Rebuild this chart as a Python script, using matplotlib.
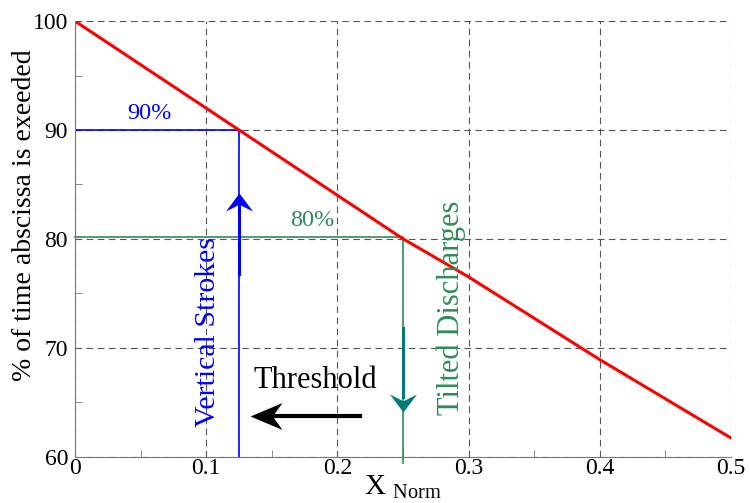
import numpy as np
import matplotlib
matplotlib.use("Agg")
import matplotlib.pyplot as plt
from matplotlib.path import Path
from matplotlib.transforms import Affine2D
from matplotlib.ticker import MultipleLocator

plt.rcParams['font.family'] = ['Liberation Serif', 'DejaVu Serif']
plt.rcParams['mathtext.fontset'] = 'custom'
plt.rcParams['mathtext.rm'] = 'Liberation Serif'

# curve: % of time abscissa is exceeded vs X_Norm
x_norm = [0, 0.125, 0.25, 0.3, 0.4, 0.5]
pct = [100, 90, 80, 76.5, 68.9, 61.7]

# thresholds
vs_x, vs_pct = 0.125, 90     # vertical strokes
td_x, td_pct = 0.25, 80      # tilted discharges

blue = '#0000ff'
green = '#2e8b57'
teal = '#007b78'


def head(angle):
    # arrow head with notched back, tip at origin, pointing +x then rotated
    verts = [(0, 0), (-1, 0.75), (-0.62, 0), (-1, -0.75), (0, 0)]
    codes = [Path.MOVETO, Path.LINETO, Path.LINETO, Path.LINETO, Path.CLOSEPOLY]
    return Path(verts, codes).transformed(Affine2D().rotate_deg(angle))


def head_wide(angle):
    verts = [(0, 0), (-1, 0.42), (-0.7, 0), (-1, -0.42), (0, 0)]
    codes = [Path.MOVETO, Path.LINETO, Path.LINETO, Path.LINETO, Path.CLOSEPOLY]
    return Path(verts, codes).transformed(Affine2D().rotate_deg(angle))


fig = plt.figure(figsize=(7.5, 5.03), dpi=100)
ax = fig.add_axes([0.1, 0.0924, 0.8747, 0.8656])

ax.grid(True, which='major', color='#555555', linestyle=(0, (6, 4)), linewidth=0.8)
ax.set_axisbelow(True)

# threshold lines
ax.plot([0, vs_x, vs_x], [vs_pct, vs_pct, 60], color=blue, lw=1.2)
ax.plot([0, td_x, td_x], [td_pct + 0.2, td_pct + 0.2, 59.4], color=green, lw=1.2, clip_on=False)

ax.plot(x_norm, pct, color='red', lw=2.2)

# up arrow on blue line
ax.plot([vs_x, vs_x], [76.8, 83], color=blue, lw=2.2)
ax.plot(vs_x, 84.2, marker=head(90), markersize=26, color=blue, mew=0)
# down arrow on green line
ax.plot([td_x, td_x], [71.8, 65.5], color=teal, lw=2.2)
ax.plot(td_x, 64.1, marker=head(-90), markersize=26, color=teal, mew=0)
# threshold arrow
ax.plot([0.217, 0.145], [63.7, 63.7], color='black', lw=3)
ax.plot(0.133, 63.7, marker=head_wide(180), markersize=46, color='black', mew=0)

ax.text(0.1835, 67.0, 'Threshold', fontsize=22, ha='center', va='center')
ax.text(0.101, 71.4, 'Vertical Strokes', fontsize=21.5, color=blue, rotation=90,
        ha='center', va='center')
ax.text(0.287, 73.7, 'Tilted Discharges', fontsize=22, color=green, rotation=90,
        ha='center', va='center')
ax.text(0.057, 91.5, '90%', fontsize=17.5, color=blue, ha='center', va='center')
ax.text(0.181, 81.7, '80%', fontsize=17.5, color=green, ha='center', va='center')

ax.set_xlim(0, 0.5)
ax.set_ylim(60, 100)
ax.set_xticks([0, 0.1, 0.2, 0.3, 0.4, 0.5])
ax.set_xticklabels(['0', '0.1', '0.2', '0.3', '0.4', '0.5'])
ax.set_yticks([60, 70, 80, 90, 100])
ax.xaxis.set_minor_locator(MultipleLocator(0.05))
ax.yaxis.set_minor_locator(MultipleLocator(5))
ax.tick_params(which='both', direction='in', colors='#777777', labelcolor='black',
               labelsize=17)
ax.tick_params(axis='x', pad=1)
ax.tick_params(axis='y', pad=5)
ax.tick_params(which='major', length=0)
ax.tick_params(which='minor', length=5)

for s in ['top', 'right']:
    ax.spines[s].set_visible(False)
for s in ['left', 'bottom']:
    ax.spines[s].set_color('#777777')

ax.set_ylabel('% of time abscissa is exeeded', fontsize=20)
ax.yaxis.set_label_coords(-0.058, 0.555)
ax.set_xlabel(r'X $_{\rm Norm}$', fontsize=21, labelpad=-4)

fig.savefig('out.png', dpi=100)
